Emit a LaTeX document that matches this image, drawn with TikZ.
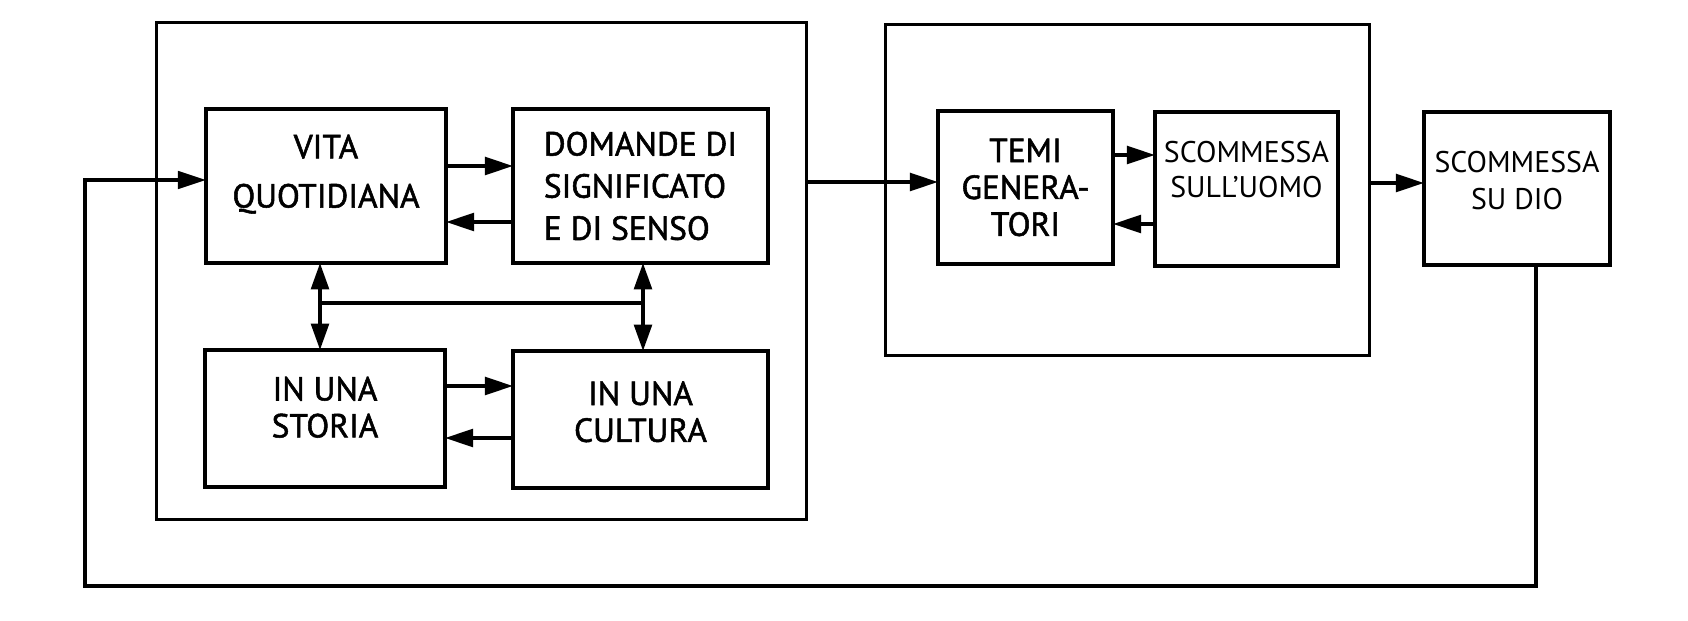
\documentclass[tikz,border=0pt]{standalone}
\usepackage{fontspec}
\setmainfont{PT Sans}[BoldFont={PT Sans},BoldFeatures={FakeBold=1.6}]
\usetikzlibrary{arrows.meta}
\begin{document}
\begin{tikzpicture}[x=0.02cm,y=-0.02cm,
    node font={\fontsize{19}{21}\selectfont},
    cornice/.style={draw,line width=1.7pt,inner sep=0pt,outer sep=0pt},
    scatola/.style={draw,line width=2.3pt,inner sep=0pt,outer sep=0pt,align=center},
    freccia/.style={line width=2.2pt,-{Triangle[length=16pt,width=10pt]}},
    doppia/.style={line width=2.2pt,{Triangle[length=15pt,width=10pt]}-{Triangle[length=15pt,width=10pt]}}]
    \useasboundingbox (0,0) rectangle (1688,621);
    % le due cornici
    \node[cornice,minimum width=13.02cm,minimum height=9.96cm] (cornice1) at (481.5,271) {};
    \node[cornice,minimum width=9.7cm,minimum height=6.64cm] (cornice2) at (1127.5,190) {};
    % i blocchi
    \node[scatola,minimum width=4.8cm,minimum height=3.08cm,text depth=17pt,
          node font={\fontsize{19}{28}\selectfont\bfseries}] (vita) at (326,186) {VITA\\QUOTIDIANA};
    \node[scatola,minimum width=5.1cm,minimum height=3.08cm,align=left,
          node font={\fontsize{19}{24}\selectfont\bfseries}] (domande) at (640.5,186) {DOMANDE DI\\SIGNIFICATO\\E DI SENSO};
    \node[scatola,minimum width=4.8cm,minimum height=2.74cm,text depth=13pt,
          node font={\fontsize{19}{21}\selectfont\bfseries}] (storia) at (325,418.5) {IN UNA\\STORIA};
    \node[scatola,minimum width=5.1cm,minimum height=2.74cm,text depth=9pt,
          node font={\fontsize{19}{21}\selectfont\bfseries}] (cultura) at (640.5,419.5) {IN UNA\\CULTURA};
    \node[scatola,minimum width=3.5cm,minimum height=3.06cm,
          node font={\fontsize{19}{21}\selectfont\bfseries}] (temi) at (1025.5,187.5) {TEMI\\GENERA-\\TORI};
    \node[scatola,minimum width=3.66cm,minimum height=3.08cm,text depth=22pt,
          node font={\fontsize{17}{20}\selectfont}] (uomo) at (1246.5,189) {SCOMMESSA\\SULL'UOMO};
    \node[scatola,line width=1.9pt,minimum width=3.72cm,minimum height=3.06cm,text depth=9pt,
          node font={\fontsize{17}{21}\selectfont}] (dio) at (1517,188.5) {SCOMMESSA\\SU DIO};
    % frecce interne
    \draw[freccia] (vita.east |- 0,166) -- (domande.west |- 0,166);
    \draw[freccia] (domande.west |- 0,222) -- (vita.east |- 0,222);
    \draw[freccia] (storia.east |- 0,386) -- (cultura.west |- 0,386);
    \draw[freccia] (cultura.west |- 0,438) -- (storia.east |- 0,438);
    \coordinate (nodoS) at (320,303);
    \coordinate (nodoD) at (643,303);
    \draw[doppia] (vita.south -| nodoS) -- (storia.north -| nodoS);
    \draw[doppia] (domande.south -| nodoD) -- (cultura.north -| nodoD);
    \draw[line width=2pt] (nodoS) -- (nodoD);
    \draw[freccia] (temi.east |- 0,155) -- (uomo.west |- 0,155);
    \draw[freccia] (uomo.west |- 0,224) -- (temi.east |- 0,224);
    % collegamenti tra le cornici
    \draw[freccia] (cornice1.east |- 0,182) -- (temi.west |- 0,182);
    \draw[freccia] (cornice2.east |- 0,183) -- (dio.west |- 0,183);
    % ritorno
    \coordinate (ritorno) at (85,586);
    \draw[freccia,line width=1.8pt] (dio.south -| 1536,0) |- (ritorno) |- (vita.west |- 0,180);
\end{tikzpicture}
\end{document}
